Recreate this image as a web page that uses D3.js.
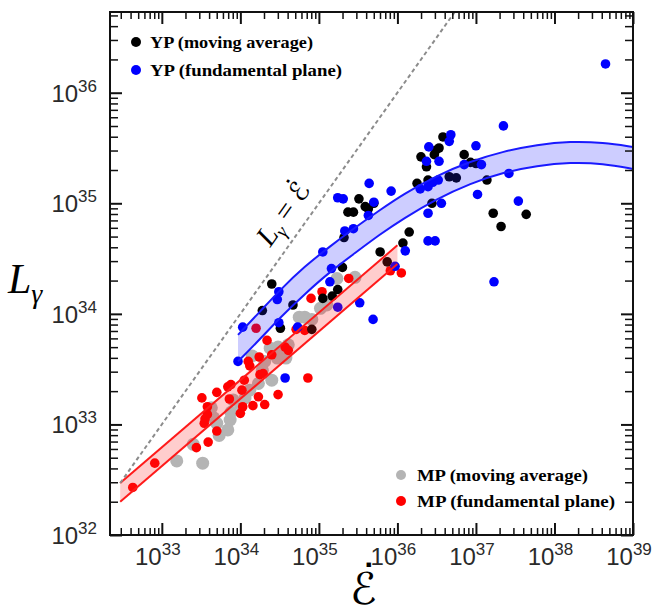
<!DOCTYPE html>
<html>
<head>
<meta charset="utf-8">
<script src="https://cdn.jsdelivr.net/npm/d3@7"></script>
<style>
  body { margin: 0; background: #fff; }
  svg { display: block; }
</style>
</head>
<body>
<svg id="chart" width="660" height="612"></svg>
<script>
// all values are log10
const ypAvgLogE = [36.58, 36.53, 36.49, 36.47, 36.30, 36.37, 36.85, 36.93, 37.00, 36.66, 36.75, 37.14, 36.25, 36.39, 36.44, 37.22, 37.64, 37.32, 36.15, 35.70, 35.51, 35.59, 35.63, 35.37, 35.44, 35.32, 35.78, 36.07, 35.87, 35.30, 35.24, 35.05, 35.17, 34.40, 34.28, 34.67, 34.51, 34.91];
const ypAvgLogL = [35.60, 35.50, 35.48, 35.44, 35.42, 35.33, 35.44, 35.37, 35.36, 35.24, 35.23, 35.21, 35.18, 35.21, 35.00, 34.91, 34.90, 34.79, 34.74, 35.00, 35.04, 34.97, 34.95, 34.92, 34.92, 34.69, 34.56, 34.64, 34.47, 34.42, 34.22, 34.14, 34.16, 34.27, 34.03, 34.08, 33.87, 33.86];

const ypFpLogE = [38.65, 37.35, 36.68, 36.66, 36.40, 37.00, 36.53, 36.37, 36.85, 37.07, 37.42, 36.52, 36.45, 36.29, 36.39, 37.02, 36.56, 36.39, 37.54, 35.92, 35.64, 35.70, 35.24, 35.31, 35.63, 35.33, 35.44, 35.05, 35.16, 35.14, 35.52, 35.69, 35.24, 36.10, 36.39, 36.48, 35.97, 37.23, 34.49, 34.47, 34.03, 34.49, 33.97, 34.57, 34.73];
const ypFpLogL = [36.26, 35.70, 35.62, 35.56, 35.51, 35.52, 35.38, 35.38, 35.35, 35.35, 35.27, 35.21, 35.19, 35.13, 35.15, 35.08, 35.00, 34.91, 35.02, 35.11, 35.18, 35.01, 35.05, 35.04, 34.89, 34.75, 34.77, 34.56, 34.41, 34.29, 34.10, 33.95, 34.06, 34.57, 34.66, 34.66, 34.43, 34.29, 34.20, 34.13, 33.88, 33.92, 33.57, 33.42, 33.88];

const mpAvgLogE = [33.19, 33.52, 33.40, 33.73, 33.84, 33.66, 33.63, 33.88, 33.91, 34.06, 34.12, 34.23, 34.40, 34.15, 34.31, 34.47, 34.58, 34.48, 34.61, 34.38, 34.51, 34.75, 34.82, 34.91, 35.02, 35.10, 35.23, 35.46, 33.70, 33.87, 34.00, 34.28];
const mpAvgLogL = [32.67, 32.65, 32.82, 32.90, 32.95, 33.06, 33.15, 33.11, 33.22, 33.24, 33.31, 33.37, 33.40, 33.62, 33.57, 33.60, 33.60, 33.70, 33.72, 33.69, 33.66, 33.97, 33.97, 33.95, 34.05, 34.08, 34.32, 34.33, 33.01, 33.04, 33.18, 33.49];

const mpFpLogE = [32.63, 32.91, 33.44, 33.59, 33.70, 33.54, 33.55, 33.58, 33.51, 33.58, 33.70, 33.84, 33.88, 33.86, 34.05, 34.02, 34.03, 34.00, 34.16, 34.31, 34.23, 34.48, 34.10, 34.12, 34.24, 34.25, 34.29, 34.34, 34.40, 34.57, 34.61, 34.86, 34.71, 34.82, 34.20, 34.90, 35.04, 35.38, 35.91, 36.05];
const mpFpLogL = [32.43, 32.65, 32.79, 32.84, 32.94, 33.01, 33.05, 33.09, 33.24, 33.16, 33.29, 33.34, 33.36, 33.23, 33.40, 33.31, 33.16, 33.10, 33.17, 33.18, 33.25, 33.27, 33.57, 33.53, 33.61, 33.45, 33.46, 33.76, 33.63, 33.70, 33.67, 33.42, 33.86, 33.85, 33.87, 34.14, 34.20, 34.32, 34.39, 34.37];

// YP fit band (upper / lower edge)
const ypBandLogE   = [33.97, 34.25, 34.51, 34.82, 35.14, 35.46, 35.78, 36.07, 36.50, 36.93, 37.35, 37.78, 38.20, 38.62, 39.00];
const ypBandUpper  = [33.81, 34.02, 34.22, 34.43, 34.61, 34.78, 34.94, 35.08, 35.25, 35.38, 35.47, 35.53, 35.56, 35.55, 35.51];
const ypBandLower  = [33.57, 33.77, 33.97, 34.18, 34.38, 34.55, 34.72, 34.86, 35.04, 35.18, 35.28, 35.34, 35.37, 35.36, 35.31];

// MP fit band
const mpBandLogE  = [32.47, 36.00];
const mpBandUpper = [32.47, 34.62];
const mpBandLower = [32.30, 34.45];

// L = Edot line
const equalLogE = [32.47, 36.73];

const xTickExps = [33, 34, 35, 36, 37, 38, 39];
const yTickExps = [32, 33, 34, 35, 36];

const legendTop = ['YP (moving average)', 'YP (fundamental plane)'];
const legendBottom = ['MP (moving average)', 'MP (fundamental plane)'];

const svg = d3.select('#chart');
const margin = { top: 12, right: 27, bottom: 77, left: 110 };
const width = 660 - margin.left - margin.right;
const height = 612 - margin.top - margin.bottom;
const g = svg.append('g').attr('transform', `translate(${margin.left},${margin.top})`);

const p = v => Math.pow(10, v);
const x = d3.scaleLog().domain([p(32.34), p(39)]).range([0, width]);
const y = d3.scaleLog().domain([p(32), p(36.73)]).range([height, 0]);

svg.append('defs').append('clipPath').attr('id', 'clip')
  .append('rect').attr('width', width).attr('height', height);

const plot = g.append('g').attr('clip-path', 'url(#clip)');

// points
function dots(es, ls, color, r) {
  plot.append('g').selectAll('circle')
    .data(es.map((e, i) => [e, ls[i]]))
    .join('circle')
    .attr('cx', d => x(p(d[0])))
    .attr('cy', d => y(p(d[1])))
    .attr('r', r)
    .attr('fill', color);
}
dots(mpAvgLogE, mpAvgLogL, '#b4b4b4', 6.5);
dots(mpFpLogE, mpFpLogL, '#ff0000', 4.8);
dots(ypAvgLogE, ypAvgLogL, '#000000', 4.8);
dots(ypFpLogE, ypFpLogL, '#0000ff', 4.8);

// bands
function band(es, up, lo, color) {
  const data = es.map((e, i) => ({ e, u: up[i], l: lo[i] }));
  const area = d3.area()
    .x(d => x(p(d.e))).y0(d => y(p(d.l))).y1(d => y(p(d.u)))
    .curve(d3.curveBasis);
  plot.append('path').datum(data).attr('d', area)
    .attr('fill', color).attr('fill-opacity', 0.22);
  ['u', 'l'].forEach(k => {
    const line = d3.line().x(d => x(p(d.e))).y(d => y(p(d[k]))).curve(d3.curveBasis);
    plot.append('path').datum(data).attr('d', line)
      .attr('fill', 'none').attr('stroke', color).attr('stroke-width', 2);
  });
}
band(mpBandLogE, mpBandUpper, mpBandLower, '#ff1a1a');
band(ypBandLogE, ypBandUpper, ypBandLower, '#1a1aff');

// L = Edot
plot.append('line')
  .attr('x1', x(p(equalLogE[0]))).attr('y1', y(p(equalLogE[0])))
  .attr('x2', x(p(equalLogE[1]))).attr('y2', y(p(equalLogE[1])))
  .attr('stroke', '#8c8c8c').attr('stroke-width', 2).attr('stroke-dasharray', '4,3');

const ang = Math.atan2(y(p(36)) - y(p(33)), x(p(36)) - x(p(33))) * 180 / Math.PI;
const lx = x(p(34.86)) - 17, ly = y(p(34.86));
const eqLab = g.append('text')
  .attr('transform', `translate(${lx},${ly}) rotate(${ang})`)
  .attr('text-anchor', 'middle')
  .attr('font-family', 'Liberation Serif, serif').attr('font-size', 29).attr('font-style', 'italic');
eqLab.append('tspan').text('L');
eqLab.append('tspan').attr('font-size', 19).attr('dy', 6).text('γ');
eqLab.append('tspan').attr('dy', -6).attr('font-style', 'normal').text(' = ');
eqLab.append('tspan').attr('font-family', 'DejaVu Sans').attr('font-style', 'normal').attr('font-size', 27).text('ℰ');
eqLab.append('tspan').attr('font-family', 'DejaVu Sans').attr('font-style', 'normal').attr('font-size', 27)
  .attr('dx', -13).attr('dy', -5).text('˙');

// frame and ticks
g.append('rect').attr('width', width).attr('height', height)
  .attr('fill', 'none').attr('stroke', '#111').attr('stroke-width', 2);

function minorOf(scale) {
  const [a, b] = scale.domain();
  const out = [];
  for (let d = Math.floor(Math.log10(a)); d <= Math.ceil(Math.log10(b)); d++) {
    for (let k = 2; k <= 9; k++) {
      const v = k * p(d);
      if (v > a && v < b) out.push(v);
    }
  }
  return out;
}
function ticks(axisFn, scale, values, size, tr, sw) {
  g.append('g').attr('transform', tr)
    .call(axisFn(scale).tickValues(values).tickSize(-size).tickFormat(''))
    .call(s => s.select('.domain').remove())
    .selectAll('line').attr('stroke', '#111').attr('stroke-width', sw);
}
const xMaj = xTickExps.map(p), yMaj = yTickExps.map(p);
[[d3.axisBottom, `translate(0,${height})`], [d3.axisTop, 'translate(0,0)']].forEach(([f, tr]) => {
  ticks(f, x, xMaj, 12, tr, 2);
  ticks(f, x, minorOf(x), 7, tr, 1.5);
});
[[d3.axisLeft, 'translate(0,0)'], [d3.axisRight, `translate(${width},0)`]].forEach(([f, tr]) => {
  ticks(f, y, yMaj, 12, tr, 2);
  ticks(f, y, minorOf(y), 8, tr, 1.5);
});

// tick labels
const labFont = 'Liberation Sans, Arial, sans-serif';
const xl = g.append('g').selectAll('text').data(xTickExps).join('text')
  .attr('x', d => x(p(d)) - 4).attr('y', height + 30)
  .attr('text-anchor', 'middle').attr('font-family', labFont).attr('font-size', 24).attr('fill', '#2a2a2a');
xl.append('tspan').text('10');
xl.append('tspan').attr('dy', -10).attr('font-size', 17).text(d => d);

const yl = g.append('g').selectAll('text').data(yTickExps).join('text')
  .attr('x', -13).attr('y', d => y(p(d)) + 9)
  .attr('text-anchor', 'end').attr('font-family', labFont).attr('font-size', 24).attr('fill', '#2a2a2a');
yl.append('tspan').text('10');
yl.append('tspan').attr('dy', -10).attr('font-size', 17).text(d => d);

// axis titles
const yt = svg.append('text').attr('x', 8).attr('y', 293)
  .attr('font-family', 'Liberation Serif, serif').attr('font-style', 'italic').attr('font-size', 42);
yt.append('tspan').text('L');
yt.append('tspan').attr('dy', 10).attr('font-size', 28).text('γ');

const xt = svg.append('text').attr('x', 350).attr('y', 604)
  .attr('font-family', 'DejaVu Sans').attr('font-size', 44);
xt.append('tspan').text('ℰ');
xt.append('tspan').attr('dx', -19).attr('dy', -8).text('˙');

// legends
const legFont = 'Liberation Serif, serif';
const topLen = [163, 192], botLen = [171, 198];
const lt = g.append('g').selectAll('g').data(legendTop).join('g')
  .attr('transform', (d, i) => `translate(26,${30 + i * 28})`);
lt.append('circle').attr('r', 5).attr('fill', (d, i) => ['#000', '#0000ff'][i]);
lt.append('text').attr('x', 14).attr('y', 6)
  .attr('textLength', (d, i) => topLen[i]).attr('lengthAdjust', 'spacingAndGlyphs')
  .attr('font-family', legFont).attr('font-weight', 'bold').attr('font-size', 17.5).text(d => d);

const lb = g.append('g').selectAll('g').data(legendBottom).join('g')
  .attr('transform', (d, i) => `translate(291,${463 + i * 26})`);
lb.append('circle').attr('r', 5).attr('fill', (d, i) => ['#b4b4b4', '#ff0000'][i]);
lb.append('text').attr('x', 16).attr('y', 6)
  .attr('textLength', (d, i) => botLen[i]).attr('lengthAdjust', 'spacingAndGlyphs')
  .attr('font-family', legFont).attr('font-weight', 'bold').attr('font-size', 17.5).text(d => d);
</script>
</body>
</html>
